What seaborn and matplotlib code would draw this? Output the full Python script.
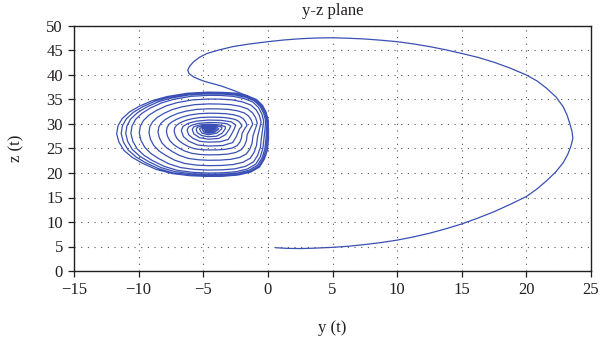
import numpy as np
import pandas as pd
import matplotlib
matplotlib.use("Agg")
import matplotlib.pyplot as plt
import seaborn as sns

# Outward swing: starts near the z axis, sweeps right, over the top and back in
swing_y = [0.6, 1.5, 2.5, 3.5, 5.0, 6.25, 7.5, 8.75, 10.0, 11.25, 12.5, 13.75, 15.0, 16.25, 17.5,
           18.75, 20.0, 20.8, 21.56, 22.3, 22.85, 23.2, 23.45, 23.6, 23.52, 23.36, 23.15, 22.85, 22.3,
           21.56, 20.85, 20.0, 18.75, 17.5, 16.25, 15.0, 13.75, 12.5, 11.25, 10.0, 8.75, 7.5, 6.25,
           5.0, 3.75, 2.5, 1.25, 0.0, -1.5, -2.7, -3.8, -4.7, -5.3, -5.75, -6.05, -6.2, -6.1, -5.75,
           -5.3, -4.9, -4.2, -3.6, -2.7, -1.65, -1.1, -0.75, -0.4, -0.2, -0.05]
swing_z = [4.75, 4.62, 4.58, 4.65, 4.83, 5.05, 5.4, 5.8, 6.3, 6.95, 7.7, 8.6, 9.6, 10.8, 12.1,
           13.6, 15.2, 16.7, 18.4, 20.3, 22.1, 23.8, 25.5, 27.1, 28.6, 30.1, 31.8, 33.5, 35.5,
           37.3, 38.75, 40.0, 41.4, 42.6, 43.6, 44.4, 45.15, 45.8, 46.35, 46.8, 47.1, 47.35, 47.5,
           47.6, 47.55, 47.4, 47.15, 46.8, 46.3, 45.8, 45.1, 44.4, 43.6, 42.7, 41.8, 41.0, 40.3, 39.6,
           39.1, 38.7, 38.2, 37.75, 36.9, 35.8, 35.0, 34.2, 33.3, 32.5, 31.0]

# Outer turns of the spiral (clockwise)
outer_y = [0.05, 0.05, -0.04, -0.28, -0.65, -1.34, -2.27, -3.39, -4.6, -6.02, -7.44, -8.65, -9.71, -10.49, -11.13, -11.52,
           -11.7, -11.59, -11.27, -10.71, -9.93, -8.93, -7.8, -6.23, -4.6, -3.53, -2.51, -1.62, -0.88, -0.41, -0.14, 0.03,
           0.0, -0.05, -0.14, -0.37, -0.73, -1.41, -2.32, -3.42, -4.6, -5.95, -7.3, -8.45, -9.46, -10.2, -10.81, -11.18,
           -11.35, -11.25, -10.95, -10.41, -9.66, -8.72, -7.64, -6.15, -4.6, -3.55, -2.55, -1.69, -0.96, -0.5, -0.23, -0.07,
           -0.1, -0.15, -0.24, -0.46, -0.82, -1.48, -2.37, -3.44, -4.6, -5.88, -7.16, -8.25, -9.21, -9.91, -10.49, -10.84,
           -11.0, -10.9, -10.62, -10.1, -9.4, -8.5, -7.48, -6.07, -4.6, -3.58, -2.6, -1.75, -1.04, -0.6, -0.33, -0.17,
           -0.22, -0.3, -0.39, -0.6, -0.94, -1.59, -2.45, -3.48, -4.6, -5.8, -7.0, -8.02, -8.92, -9.58, -10.12, -10.45,
           -10.6, -10.51, -10.24, -9.76, -9.1, -8.26, -7.3, -5.98, -4.6, -3.61, -2.66, -1.85, -1.16, -0.73, -0.47, -0.32,
           -0.4, -0.5, -0.58, -0.79, -1.11, -1.73, -2.55, -3.53, -4.6, -5.67, -6.74, -7.65, -8.45, -9.04, -9.52, -9.82,
           -9.95, -9.87, -9.63, -9.2, -8.61, -7.86, -7.01, -5.83, -4.6, -3.66, -2.75, -1.98, -1.32, -0.91, -0.66, -0.52]
outer_z = [29.0, 26.87, 24.6, 22.79, 21.2, 20.17, 19.6, 19.35, 19.3, 19.45, 19.9, 20.75, 22.0, 23.18, 24.6, 26.28,
           28.0, 29.68, 31.1, 32.45, 33.65, 34.78, 35.6, 36.28, 36.5, 36.46, 36.3, 35.79, 35.0, 33.8, 32.4, 30.73,
           29.0, 26.9, 24.7, 22.89, 21.36, 20.31, 19.74, 19.5, 19.45, 19.59, 20.0, 20.88, 22.1, 23.27, 24.7, 26.33,
           28.05, 29.66, 31.06, 32.38, 33.56, 34.66, 35.47, 36.13, 36.35, 36.31, 36.13, 35.65, 34.88, 33.7, 32.31, 30.69,
           29.0, 26.95, 24.81, 23.05, 21.56, 20.54, 19.98, 19.75, 19.7, 19.84, 20.26, 21.09, 22.3, 23.42, 24.81, 26.4,
           28.07, 29.64, 31.0, 32.29, 33.43, 34.51, 35.29, 35.94, 36.15, 36.11, 35.94, 35.47, 34.72, 33.58, 32.22, 30.64,
           29.0, 27.02, 24.95, 23.24, 21.8, 20.81, 20.27, 20.04, 20.0, 20.13, 20.54, 21.35, 22.52, 23.6, 24.95, 26.48,
           28.1, 29.62, 30.92, 32.15, 33.25, 34.27, 35.03, 35.64, 35.85, 35.82, 35.64, 35.2, 34.48, 33.38, 32.08, 30.58,
           29.0, 27.15, 25.22, 23.62, 22.28, 21.36, 20.85, 20.64, 20.6, 20.73, 21.1, 21.86, 22.95, 23.96, 25.22, 26.65,
           28.16, 29.55, 30.71, 31.81, 32.78, 33.7, 34.37, 34.92, 35.1, 35.07, 34.92, 34.52, 33.88, 32.9, 31.75, 30.4]

# Middle turns
middle_y = [-0.65, -0.8, -0.88, -1.07, -1.37, -1.94, -2.7, -3.61, -4.6, -5.52, -6.44, -7.22, -7.91, -8.42, -8.83, -9.09,
            -9.2, -9.13, -8.92, -8.56, -8.05, -7.41, -6.67, -5.66, -4.6, -3.73, -2.89, -2.17, -1.56, -1.18, -0.95, -0.82,
            -0.97, -1.15, -1.22, -1.39, -1.67, -2.18, -2.87, -3.7, -4.6, -5.38, -6.16, -6.82, -7.41, -7.84, -8.19, -8.4,
            -8.5, -8.44, -8.27, -7.95, -7.53, -6.98, -6.36, -5.5, -4.6, -3.81, -3.05, -2.39, -1.84, -1.49, -1.29, -1.17,
            -1.37, -1.6, -1.66, -1.81, -2.05, -2.5, -3.1, -3.82, -4.6, -5.25, -5.9, -6.45, -6.94, -7.3, -7.59, -7.77,
            -7.85, -7.8, -7.66, -7.4, -7.04, -6.58, -6.06, -5.35, -4.6, -3.91, -3.25, -2.68, -2.2, -1.9, -1.72, -1.61,
            -1.8, -2.0, -2.05, -2.18, -2.39, -2.78, -3.3, -3.92, -4.6, -5.13, -5.66, -6.11, -6.51, -6.8, -7.04, -7.18,
            -7.25, -7.21, -7.09, -6.88, -6.59, -6.22, -5.79, -5.21, -4.6, -4.0, -3.43, -2.94, -2.52, -2.26, -2.1, -2.01]
middle_z = [29.0, 27.35, 25.62, 24.2, 23.0, 22.17, 21.72, 21.54, 21.5, 21.61, 21.95, 22.62, 23.6, 24.5, 25.62, 26.9,
            28.25, 29.46, 30.43, 31.35, 32.16, 32.93, 33.49, 33.95, 34.1, 34.07, 33.95, 33.62, 33.08, 32.26, 31.3, 30.17,
            29.0, 27.59, 26.12, 24.9, 23.88, 23.18, 22.79, 22.63, 22.6, 22.7, 22.98, 23.56, 24.39, 25.16, 26.12, 27.21,
            28.36, 29.37, 30.15, 30.89, 31.54, 32.16, 32.61, 32.98, 33.1, 33.08, 32.98, 32.71, 32.28, 31.62, 30.85, 29.94,
            29.0, 27.83, 26.61, 25.61, 24.76, 24.18, 23.86, 23.73, 23.7, 23.78, 24.02, 24.5, 25.18, 25.82, 26.61, 27.52,
            28.47, 29.29, 29.9, 30.47, 30.98, 31.46, 31.82, 32.1, 32.2, 32.18, 32.1, 31.9, 31.56, 31.05, 30.44, 29.74,
            29.0, 28.05, 27.06, 26.25, 25.56, 25.09, 24.83, 24.72, 24.7, 24.76, 24.96, 25.34, 25.9, 26.42, 27.06, 27.8,
            28.57, 29.22, 29.67, 30.1, 30.49, 30.85, 31.11, 31.33, 31.4, 31.39, 31.33, 31.17, 30.92, 30.54, 30.08, 29.55]

# Inner turns winding down onto the focus
inner_y = [-2.2, -2.44, -2.73, -3.5, -4.6, -5.44, -6.11, -6.53, -6.7, -6.57, -6.18, -5.55, -4.6, -3.61, -2.84, -2.49,
           -2.6, -2.84, -3.07, -3.7, -4.6, -5.26, -5.79, -6.12, -6.25, -6.15, -5.84, -5.34, -4.6, -3.79, -3.16, -2.87,
           -2.97, -3.27, -3.8, -4.6, -5.29, -5.73, -5.85, -5.73, -5.25, -4.6, -3.8, -3.29,
           -3.3, -3.54, -3.97, -4.6, -5.12, -5.46, -5.55, -5.46, -5.09, -4.6, -3.97, -3.56,
           -3.57, -3.95, -4.6, -5.1, -5.3, -5.1, -4.6, -3.95,
           -3.8, -4.1, -4.6, -4.96, -5.1, -4.96, -4.6, -4.1,
           -3.97, -4.2, -4.6, -4.85, -4.95, -4.85, -4.6, -4.2,
           -4.12, -4.31, -4.6, -4.78, -4.85, -4.78, -4.6, -4.31,
           -4.27, -4.41, -4.6, -4.72, -4.76, -4.72, -4.6, -4.41,
           -4.39, -4.48, -4.6, -4.67, -4.7, -4.67, -4.6, -4.48, -4.55]
inner_z = [29.0, 27.42, 26.2, 25.6, 25.5, 25.71, 26.48, 27.42, 28.65, 29.5, 30.12, 30.58, 30.8, 30.75, 30.44, 29.81,
           29.0, 27.78, 26.84, 26.38, 26.3, 26.46, 27.06, 27.78, 28.73, 29.36, 29.81, 30.14, 30.3, 30.26, 30.04, 29.59,
           29.0, 27.84, 27.05, 26.9, 27.21, 27.99, 28.9, 29.43, 29.82, 29.95, 29.84, 29.48,
           29.0, 28.12, 27.51, 27.4, 27.64, 28.23, 28.92, 29.32, 29.6, 29.7, 29.62, 29.35,
           29.0, 28.14, 27.8, 28.14, 29.0, 29.36, 29.5, 29.36,
           29.0, 28.35, 28.1, 28.35, 29.0, 29.25, 29.35, 29.25,
           29.0, 28.53, 28.35, 28.53, 29.0, 29.18, 29.25, 29.18,
           29.0, 28.68, 28.55, 28.68, 29.0, 29.12, 29.17, 29.12,
           29.0, 28.78, 28.7, 28.78, 29.0, 29.08, 29.11, 29.08,
           29.0, 28.87, 28.82, 28.87, 29.0, 29.05, 29.07, 29.05, 28.98]

x_ticks = [-15, -10, -5, 0, 5, 10, 15, 20, 25]
z_ticks = [0, 5, 10, 15, 20, 25, 30, 35, 40, 45, 50]

sns.set_theme(style="ticks")
plt.rcParams["font.family"] = ["Liberation Serif", "DejaVu Serif"]
plt.rcParams["axes.unicode_minus"] = True

traj = pd.DataFrame({
    "y": np.concatenate([swing_y, outer_y, middle_y, inner_y]),
    "z": np.concatenate([swing_z, outer_z, middle_z, inner_z]),
})

text_col = "#231f20"
fig = plt.figure(figsize=(6.0, 3.44), dpi=100)
ax = fig.add_axes([74 / 600, 1 - 271 / 344, (591 - 74) / 600, (271 - 26) / 344])

sns.lineplot(data=traj, x="y", y="z", sort=False, estimator=None,
             color="#3a50b4", linewidth=0.9, ax=ax)

ax.set_xlim(-15, 25)
ax.set_ylim(0, 50)
ax.set_xticks(x_ticks)
ax.set_yticks(z_ticks)
ax.set_axisbelow(True)
ax.grid(True, linestyle=(0, (1, 5)), color="#555555", linewidth=0.8)

for side in ["left", "bottom", "top", "right"]:
    ax.spines[side].set_visible(True)
    ax.spines[side].set_color(text_col)
    ax.spines[side].set_linewidth(1.0)

ax.tick_params(axis="both", direction="out", length=4, width=0.9,
               colors=text_col, labelsize=12, top=False, right=False, pad=4)

ax.set_title("y-z plane", fontsize=12, color=text_col, pad=8)
ax.set_xlabel("y (t)", fontsize=12, color=text_col, labelpad=16)
ax.set_ylabel("z (t)", fontsize=12, color=text_col, labelpad=16)

fig.savefig("out.png", dpi=100)
